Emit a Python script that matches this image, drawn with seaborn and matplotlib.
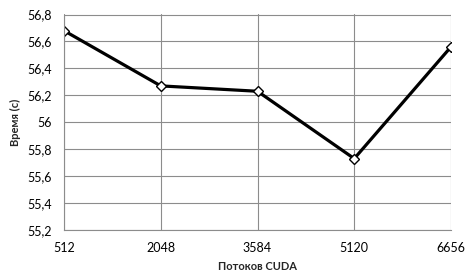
import matplotlib
matplotlib.use("Agg")
import matplotlib.pyplot as plt
import seaborn as sns
import pandas as pd

threads = [512, 2048, 3584, 5120, 6656]
times = [56.68, 56.27, 56.23, 55.73, 56.56]
yticks = [55.2, 55.4, 55.6, 55.8, 56.0, 56.2, 56.4, 56.6, 56.8]
ytick_labels = ["55,2", "55,4", "55,6", "55,8", "56", "56,2", "56,4", "56,6", "56,8"]

sns.set_style("white")
plt.rcParams['font.family'] = ['Lato', 'DejaVu Sans']

df = pd.DataFrame({"threads": threads, "time": times})

fig = plt.figure(figsize=(4.65, 2.75), dpi=100)
ax = fig.add_axes([64/465, 1 - 230/275, (451-64)/465, (230-14.5)/275])

sns.lineplot(data=df, x="threads", y="time", ax=ax, color="black", linewidth=2.3,
             marker="D", markersize=5.5, markerfacecolor="white",
             markeredgecolor="black", markeredgewidth=1.0)

ax.set_xlim(threads[0], threads[-1])
ax.set_ylim(55.2, 56.8)
ax.set_xticks(threads)
ax.set_xticklabels([str(t) for t in threads], fontsize=9)
ax.set_yticks(yticks)
ax.set_yticklabels(ytick_labels, fontsize=9)

grid_c = "#8c8c8c"
ax.grid(True, color=grid_c, linewidth=0.8)
ax.set_axisbelow(True)
for s in ["top", "right"]:
    ax.spines[s].set_visible(False)
for s in ["left", "bottom"]:
    ax.spines[s].set_color(grid_c)
    ax.spines[s].set_linewidth(0.8)
ax.tick_params(axis="both", which="both", length=4, width=0.8, color=grid_c,
               direction="out", pad=5, labelcolor="black")

ax.set_xlabel("Потоков CUDA", fontsize=8, fontweight="bold", labelpad=5)
ax.set_ylabel("Время (с)", fontsize=8, fontweight="bold", labelpad=4)

fig.savefig("out.png", dpi=100)
